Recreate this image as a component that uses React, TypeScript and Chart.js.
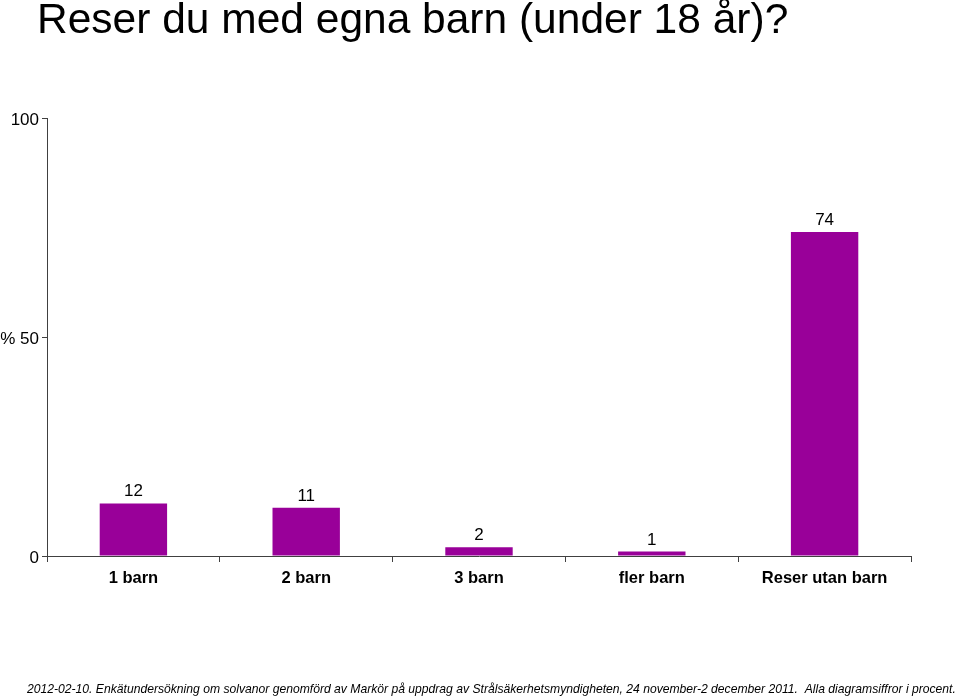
import React, { useEffect, useRef } from "react";
import { Chart, registerables } from "chart.js";

Chart.register(...registerables);

const titleText = "Reser du med egna barn (under 18 år)?";
const footerText =
  "2012-02-10. Enkätundersökning om solvanor genomförd av Markör på uppdrag av Strålsäkerhetsmyndigheten, 24 november-2 december 2011.  Alla diagramsiffror i procent.";
const categories = ["1 barn", "2 barn", "3 barn", "fler barn", "Reser utan barn"];
const values = [12, 11, 2, 1, 74];
const yTicks = [0, 50, 100];

const FONT = "Arial, 'Liberation Sans', sans-serif";

const overlayPlugin = {
  id: "overlay",
  afterDraw(chart: any) {
    const ctx = chart.ctx;
    ctx.save();
    ctx.fillStyle = "#000";
    ctx.font = `42.5px ${FONT}`;
    ctx.textAlign = "left";
    ctx.textBaseline = "alphabetic";
    ctx.fillText(titleText, 37, 33);

    ctx.font = `italic 12.15px ${FONT}`;
    ctx.fillText(footerText, 27, 693);

    ctx.font = `17px ${FONT}`;
    ctx.textAlign = "center";
    const meta = chart.getDatasetMeta(0);
    meta.data.forEach((bar: any, i: number) => {
      ctx.fillText(String(values[i]), bar.x, bar.y - 7);
    });
    ctx.restore();
  },
};

export default function App() {
  const ref = useRef<HTMLCanvasElement>(null);
  useEffect(() => {
    document.body.style.margin = "0";
    const chart = new Chart(ref.current!, {
      type: "bar",
      data: {
        labels: categories,
        datasets: [
          {
            data: values,
            backgroundColor: "#990099",
            categoryPercentage: 1,
            barPercentage: 0.39,
          },
        ],
      },
      options: {
        animation: false,
        responsive: false,
        layout: { padding: { left: 0, top: 118, right: 49, bottom: 0 } },
        plugins: { legend: { display: false }, tooltip: { enabled: false } },
        scales: {
          x: {
            afterFit: (s: any) => {
              s.height = 142;
            },
            grid: {
              offset: true,
              drawOnChartArea: false,
              drawTicks: true,
              tickLength: 6,
              color: "#404040",
            },
            border: { display: true, color: "#404040", width: 1 },
            ticks: {
              color: "#000",
              padding: 7,
              font: { family: FONT, size: 16.5, weight: "bold" },
              maxRotation: 0,
            },
          },
          y: {
            min: 0,
            max: 100,
            afterFit: (s: any) => {
              s.width = 47;
            },
            afterBuildTicks: (s: any) => {
              s.ticks = yTicks.map((v) => ({ value: v }));
            },
            grid: {
              drawOnChartArea: false,
              drawTicks: true,
              tickLength: 5,
              color: "#404040",
            },
            border: { display: true, color: "#404040", width: 1 },
            ticks: {
              color: "#000",
              padding: 3,
              labelOffset: 2,
              font: { family: FONT, size: 17 },
              callback: (v: any) => (v === 50 ? "% 50" : String(v)),
            },
          },
        },
      },
      plugins: [overlayPlugin],
    });
    return () => chart.destroy();
  }, []);
  return (
    <div style={{ position: "fixed", left: 0, top: 0, width: 960, height: 698, background: "#fff" }}>
      <canvas ref={ref} width={960} height={698} style={{ width: 960, height: 698 }} />
    </div>
  );
}
